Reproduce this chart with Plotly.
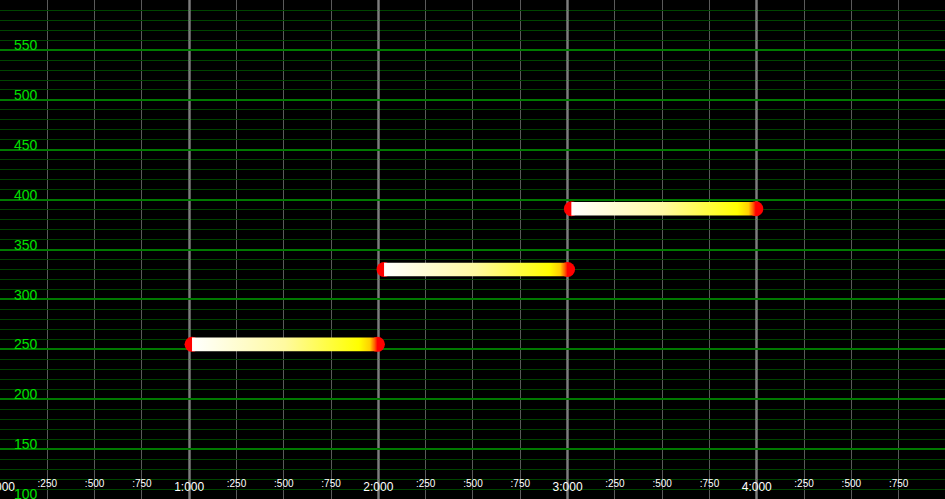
import plotly.graph_objects as go

# ---- data ----
bar_start = [1.015, 2.03, 3.02]
bar_end = [1.995, 3.0, 3.995]
bar_value = [255, 330, 391]

major_x_vals = [0, 1, 2, 3, 4]
major_x_text = ["0:000", "1:000", "2:000", "3:000", "4:000"]
minor_x_vals = [0.25, 0.5, 0.75, 1.25, 1.5, 1.75, 2.25, 2.5, 2.75,
                3.25, 3.5, 3.75, 4.25, 4.5, 4.75]
minor_x_text = [":250", ":500", ":750"] * 5
y_tick_vals = [100, 150, 200, 250, 300, 350, 400, 450, 500, 550, 600]
y_tick_text = ["100", "150", "200", "250", "300", "350", "400", "450", "500", "550", ""]

HALF = 6.8  # half bar thickness in y units

fig = go.Figure()

# red end caps (under the bars)
for s, e, v in zip(bar_start, bar_end, bar_value):
    fig.add_trace(go.Scatter(
        x=[s, e], y=[v, v], mode="markers",
        marker=dict(size=15, color="#ff0000", line=dict(width=0)),
        hoverinfo="skip", showlegend=False))

# gradient bars
for s, e, v in zip(bar_start, bar_end, bar_value):
    fig.add_trace(go.Scatter(
        x=[s, e, e, s, s], y=[v - HALF, v - HALF, v + HALF, v + HALF, v - HALF],
        mode="lines", line=dict(width=0), fill="toself",
        fillgradient=dict(type="horizontal",
                          colorscale=[[0, "#ffffff"], [0.5, "#fffaa0"], [0.9, "#ffff00"],
                                      [0.96, "#ffd000"], [0.985, "#ff6000"], [1, "#ff0000"]]),
        hoverinfo="skip", showlegend=False))

# invisible trace for the second x axis
fig.add_trace(go.Scatter(x=[bar_start[0]], y=[bar_value[0]], xaxis="x2", mode="markers",
                         marker=dict(opacity=0), hoverinfo="skip", showlegend=False))

fig.update_layout(
    width=945, height=499,
    margin=dict(l=0, r=0, t=0, b=0, autoexpand=False),
    paper_bgcolor="#000000", plot_bgcolor="#000000",
    font=dict(family="Liberation Sans, Arial, sans-serif"),
    xaxis=dict(
        range=[0, 4.995], tickmode="array", tickvals=major_x_vals, ticktext=major_x_text,
        ticklabelposition="inside", ticklabeloverflow="allow", ticks="", automargin=False,
        tickfont=dict(size=12, color="#ffffff"), ticklabelstandoff=3,
        showgrid=True, gridcolor="rgba(150,150,150,0.6)", gridwidth=3,
        minor=dict(dtick=0.25, tick0=0, showgrid=True, gridcolor="rgba(120,120,120,0.75)", gridwidth=1),
        zeroline=False, showline=False, fixedrange=True),
    xaxis2=dict(
        overlaying="x", matches="x", side="bottom", anchor="y",
        tickmode="array", tickvals=minor_x_vals, ticktext=minor_x_text,
        ticklabelposition="inside", ticklabeloverflow="allow", ticks="", automargin=False,
        tickfont=dict(size=10, color="#ffffff"), ticklabelstandoff=7,
        showgrid=False, zeroline=False, showline=False),
    yaxis=dict(
        range=[100, 600.2], tickmode="array", tickvals=y_tick_vals, ticktext=y_tick_text,
        ticklabelposition="inside top", ticklabeloverflow="allow", ticks="", automargin=False,
        tickfont=dict(size=14, color="#00e000"), ticklabelstandoff=11, ticklabelshift=5,
        showgrid=True, gridcolor="#007a00", gridwidth=2,
        minor=dict(dtick=10, tick0=0, showgrid=True, gridcolor="#004400", gridwidth=1),
        zeroline=False, showline=False, fixedrange=True),
)

fig.write_html("out.html")
